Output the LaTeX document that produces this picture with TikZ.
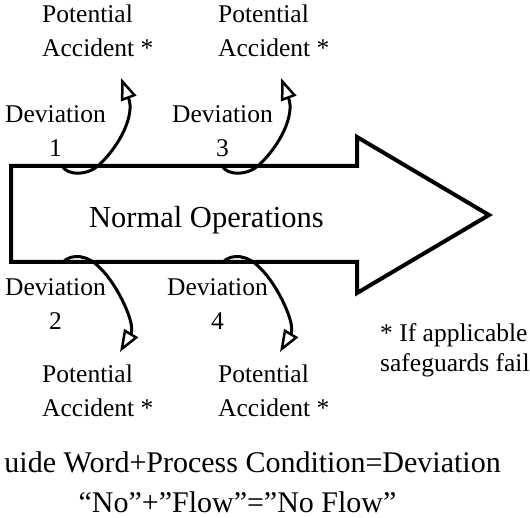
\documentclass[tikz,border=0pt]{standalone}
\usepackage{fontspec}
\setmainfont{Liberation Serif}
\usetikzlibrary{arrows.meta}
\begin{document}
\begin{tikzpicture}[x=1pt,y=-1pt,
  bigarrow/.style={draw=black,line width=4pt,miter limit=10},
  curvearrow/.style={draw=black,line width=3pt,-{Triangle[open,length=22pt,width=16pt,line width=2.5pt]}},
  lbl/.style={inner sep=0pt,font=\fontsize{25.5}{34}\selectfont},
  big/.style={inner sep=0pt,font=\fontsize{30.5}{40}\selectfont},
  eqtext/.style={inner sep=0pt,font=\fontsize{30}{40}\selectfont}]
\useasboundingbox (0,0) rectangle (530,518);
% main arrow
\draw[bigarrow] (11,166) -- (357,166) -- (357,137) -- (489,215) -- (357,293) -- (357,262) -- (11,262) -- cycle;
\node[big,anchor=base] (ops) at (206.5,228) {Normal Operations};
% connector end points
\coordinate (d1) at (62,166);
\coordinate (d3) at (222,166);
\coordinate (d2) at (63,262);
\coordinate (d4) at (223,262);
\coordinate (a1) at (121,78);
\coordinate (a3) at (281,78);
\coordinate (a2) at (120,352);
\coordinate (a4) at (280,352);
% curved arrows
\draw[curvearrow] (d1) .. controls (68,176) and (88,176) .. (100,164) .. controls (120,145) and (135,115) .. (a1);
\draw[curvearrow] (d3) .. controls (228,176) and (248,176) .. (260,164) .. controls (280,145) and (295,115) .. (a3);
\draw[curvearrow] (d2) .. controls (72,253) and (88,255) .. (100,268) .. controls (118,285) and (136,325) .. (a2);
\draw[curvearrow] (d4) .. controls (232,253) and (248,255) .. (260,268) .. controls (278,285) and (296,325) .. (a4);
% labels (base anchor = baseline of last line)
\node[lbl,anchor=base west,align=left] (pa1) at (42,57) {Potential\\Accident *};
\node[lbl,anchor=base west,align=left] (pa3) at (218,57) {Potential\\Accident *};
\node[lbl,anchor=base west,align=left] (pa2) at (42,417) {Potential\\Accident *};
\node[lbl,anchor=base west,align=left] (pa4) at (218,417) {Potential\\Accident *};
\node[lbl,anchor=base,align=center] (dv1) at (55.5,157) {Deviation\\1};
\node[lbl,anchor=base,align=center] (dv3) at (222.5,157) {Deviation\\3};
\node[lbl,anchor=base,align=center] (dv2) at (55.5,330) {Deviation\\2};
\node[lbl,anchor=base,align=center] (dv4) at (217.5,330) {Deviation\\4};
\node[lbl,anchor=base west,align=left,font=\fontsize{25.5}{30}\selectfont] (note) at (380,372) {* If applicable\\safeguards fail};
\node[eqtext,anchor=base east] (eq1) at (501,472) {uide Word+Process Condition=Deviation};
\node[eqtext,anchor=base] (eq2) at (237.5,512) {“No”+”Flow”=”No Flow”};
\end{tikzpicture}
\end{document}
